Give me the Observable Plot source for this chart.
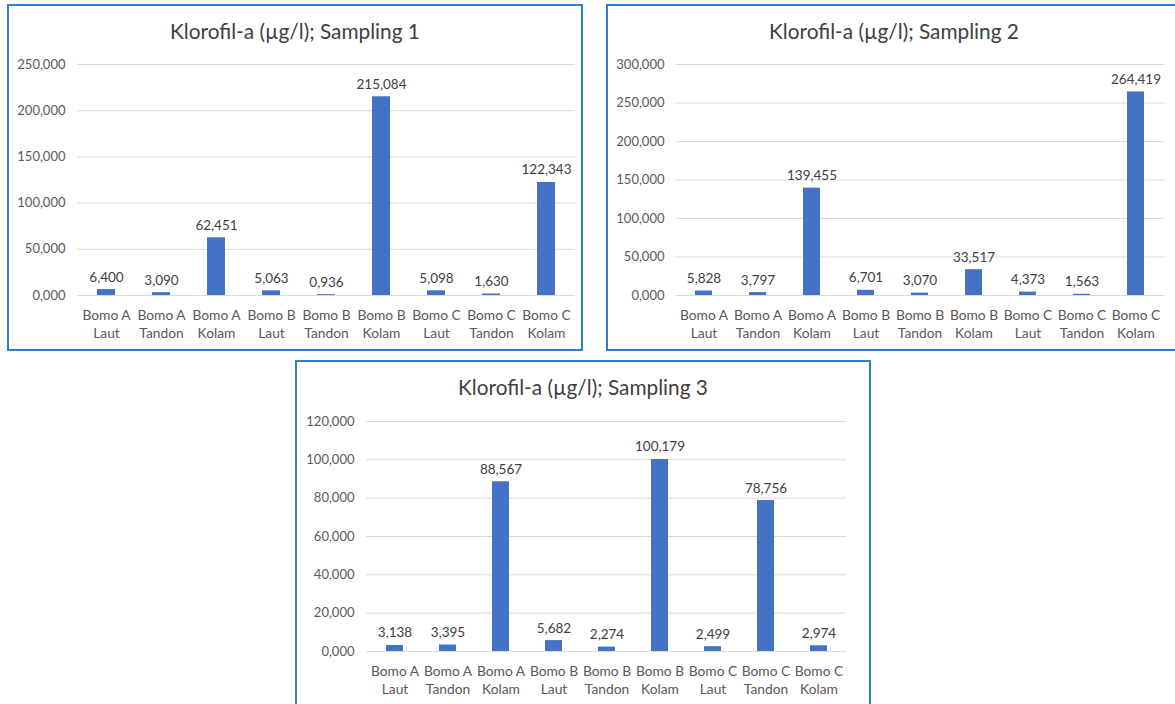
<!DOCTYPE html>
<html>
<head>
<meta charset="utf-8">
<script src="https://cdn.jsdelivr.net/npm/d3@7"></script>
<script src="https://cdn.jsdelivr.net/npm/@observablehq/plot@0.6"></script>
<style>
  html, body { margin: 0; padding: 0; background: #fff; }
  body { width: 1175px; height: 704px; position: relative; overflow: hidden; font-family: Lato, "Open Sans", sans-serif; }
  .panel { position: absolute; background: #fff; }
  .panel svg { position: absolute; left: 0; top: 0; }
  .panel svg g[aria-label="x-axis tick label"],
  .panel svg g[aria-label="x-axis tick label"] text { font-size: 13.8px !important; }
  .panel .border { position: absolute; inset: 0; border: 2px solid #2f7ed2; box-sizing: border-box; pointer-events: none; }
  .panel .title { position: absolute; left: 0; right: 0; text-align: center; font-size: 20.8px; color: #404040; line-height: 26px; }
</style>
</head>
<body>
<script>
// Sampling sites: station name and sample source
const sites = ["Bomo A", "Bomo A", "Bomo A", "Bomo B", "Bomo B", "Bomo B", "Bomo C", "Bomo C", "Bomo C"];
const sources = ["Laut", "Tandon", "Kolam", "Laut", "Tandon", "Kolam", "Laut", "Tandon", "Kolam"];

// Chlorophyll-a (µg/l) per sampling round
const sampling1 = [6.400, 3.090, 62.451, 5.063, 0.936, 215.084, 5.098, 1.630, 122.343];
const sampling2 = [5.828, 3.797, 139.455, 6.701, 3.070, 33.517, 4.373, 1.563, 264.419];
const sampling3 = [3.138, 3.395, 88.567, 5.682, 2.274, 100.179, 2.499, 78.756, 2.974];

// Y axis ticks per chart
const ticks1 = [0, 50, 100, 150, 200, 250];
const ticks2 = [0, 50, 100, 150, 200, 250, 300];
const ticks3 = [0, 20, 40, 60, 80, 100, 120];

const titles = ["Klorofil-a (µg/l); Sampling 1", "Klorofil-a (µg/l); Sampling 2", "Klorofil-a (µg/l); Sampling 3"];

const categories = sites.map((s, i) => `${s}\n${sources[i]}`);
const idLocale = d3.formatLocale({decimal: ",", thousands: ".", grouping: [3], currency: ["", ""]});
const fmt = idLocale.format(".3f");

function chart({values, ticks, title, left, top, width, height, margin}) {
  const data = values.map((v, i) => ({cat: categories[i], value: v}));
  const panel = document.createElement("div");
  panel.className = "panel";
  Object.assign(panel.style, {left: left + "px", top: top + "px", width: width + "px", height: height + "px"});

  const svg = Plot.plot({
    width, height,
    marginLeft: margin[0], marginRight: margin[1], marginTop: margin[2], marginBottom: margin[3],
    style: {fontFamily: "Lato, 'Open Sans', sans-serif", fontSize: "13px", color: "#595959", background: "transparent"},
    x: {domain: categories, paddingInner: 0.68, paddingOuter: 0.34, label: null},
    y: {domain: [ticks[0], ticks[ticks.length - 1]], label: null},
    marks: [
      Plot.gridY(ticks, {stroke: "#d9d9d9", strokeOpacity: 1, strokeWidth: 1}),
      Plot.ruleY([0], {stroke: "#d9d9d9", strokeWidth: 1}),
      Plot.barY(data, {x: "cat", y: "value", fill: "#4472c4"}),
      Plot.text(data, {x: "cat", y: "value", text: d => fmt(d.value), lineAnchor: "bottom", dy: -8, fill: "#404040", fontSize: 13.5}),
      Plot.axisY(ticks, {tickSize: 0, tickPadding: 12, tickFormat: fmt, fill: "#595959", fontSize: 13, label: null}),
      Plot.axisX({tickSize: 0, tickPadding: 12, lineHeight: 1.3, fill: "#595959", fontSize: 13.8, label: null})
    ]
  });
  panel.appendChild(svg);

  const t = document.createElement("div");
  t.className = "title";
  t.style.top = "14px";
  t.textContent = title;
  panel.appendChild(t);

  const b = document.createElement("div");
  b.className = "border";
  panel.appendChild(b);
  document.body.appendChild(panel);
}

chart({values: sampling1, ticks: ticks1, title: titles[0], left: 7, top: 4, width: 576, height: 347, margin: [70, 8, 60, 56]});
chart({values: sampling2, ticks: ticks2, title: titles[1], left: 606, top: 4, width: 576, height: 347, margin: [70, 18, 60, 56]});
chart({values: sampling3, ticks: ticks3, title: titles[2], left: 295, top: 360, width: 576, height: 347, margin: [71, 25, 61, 56]});
</script>
</body>
</html>
